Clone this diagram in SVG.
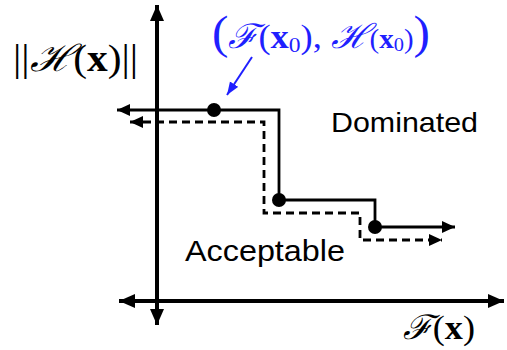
<svg xmlns="http://www.w3.org/2000/svg" width="507" height="350" viewBox="0 0 507 350">
<style>
.axis{stroke:#000;stroke-width:4;fill:none}
.step{stroke:#000;stroke-width:2.8;fill:none}
.dash{stroke:#000;stroke-width:2.8;fill:none;stroke-dasharray:8 5}
.dot{fill:#000}
.lbl{font-family:"Liberation Sans",Arial,sans-serif;fill:#000}
.math{font-family:"Liberation Serif","DejaVu Serif",serif}
.scr{font-family:"DejaVu Serif","Liberation Serif",serif;font-style:italic}
</style>
<defs>
<marker id="axh" markerUnits="userSpaceOnUse" markerWidth="18" markerHeight="16" refX="16" refY="7" orient="auto-start-reverse">
<path d="M0,0 L16,7 L0,14 Z" fill="#000"/>
</marker>
<marker id="sh" markerUnits="userSpaceOnUse" markerWidth="14" markerHeight="14" refX="13" refY="6" orient="auto-start-reverse">
<path d="M0,0 L13,6 L0,12 Z" fill="#000"/>
</marker>
<marker id="bh" markerUnits="userSpaceOnUse" markerWidth="14" markerHeight="14" refX="13" refY="5" orient="auto">
<path d="M0,0 L13,5 L0,10 Z" fill="#1f1fff"/>
</marker>
</defs>
<g id="axes">
<path class="axis" d="M157,325 V5" marker-start="url(#axh)" marker-end="url(#axh)"/>
<path class="axis" d="M119,301 H504" marker-start="url(#axh)" marker-end="url(#axh)"/>
</g>
<g id="connectors">
<path class="step" d="M117,110 H279 V200 H375 V227 H455" marker-start="url(#sh)" marker-end="url(#sh)"/>
<path class="dash" d="M130,122 H264 V213 H360 V240 H442" marker-start="url(#sh)" marker-end="url(#sh)"/>
<path d="M252,57 L227,95" stroke="#1f1fff" stroke-width="2" fill="none" marker-end="url(#bh)"/>
</g>
<g id="points">
<circle class="dot" cx="214" cy="110" r="7"/>
<circle class="dot" cx="279" cy="200" r="7"/>
<circle class="dot" cx="375" cy="227" r="7"/>
</g>
<g id="labels">
<text class="lbl" x="331" y="132" font-size="28" textLength="147" lengthAdjust="spacingAndGlyphs">Dominated</text>
<text class="lbl" x="185" y="261" font-size="30" textLength="160" lengthAdjust="spacingAndGlyphs">Acceptable</text>
<text class="math" x="13" y="71" font-size="37" fill="#000" textLength="125" lengthAdjust="spacingAndGlyphs">||<tspan class="scr">ℋ</tspan>(<tspan font-weight="bold">x</tspan>)||</text>
<text class="math" x="212" y="48" font-size="34" fill="#1f1fff" textLength="218" lengthAdjust="spacingAndGlyphs"><tspan font-size="46">(</tspan><tspan class="scr">ℱ</tspan>(<tspan font-weight="bold">x</tspan><tspan font-size="22" dy="4">0</tspan><tspan dy="-4">), </tspan><tspan class="scr">ℋ</tspan><tspan font-size="27">(<tspan font-weight="bold">x</tspan><tspan font-size="19" dy="3">0</tspan><tspan dy="-3">)</tspan></tspan><tspan font-size="46">)</tspan></text>
<text class="math" x="403" y="339" font-size="34" fill="#000" textLength="72" lengthAdjust="spacingAndGlyphs"><tspan class="scr">ℱ</tspan>(<tspan font-weight="bold">x</tspan>)</text>
</g>
</svg>
